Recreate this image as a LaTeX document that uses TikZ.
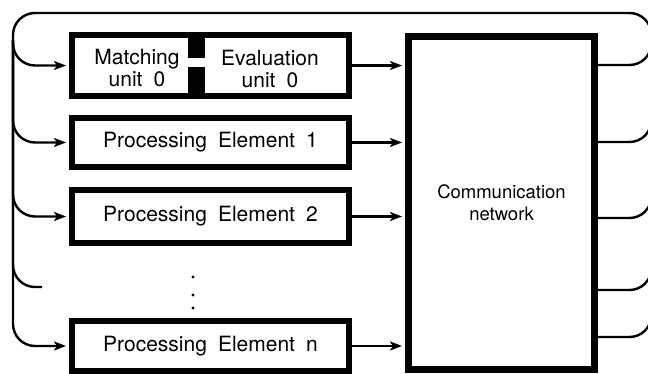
\documentclass[tikz,border=0pt]{standalone}
\usepackage{fontspec}
\setmainfont{TeX Gyre Heros}[WordSpace=1.9]
\usetikzlibrary{arrows.meta, positioning}
\tikzset{
x=1pt, y=-1pt, % laid out in pixels, y grows downwards
>={Stealth[length=12pt, width=9pt, inset=3pt]}, % makes the arrow heads bold
every node/.style={font=\fontsize{21}{22}\selectfont}, % text of the boxes
pebox/.style={draw, line width=6pt, minimum width=277pt, inner sep=0pt}, % one processing element
network/.style={pebox, line width=7pt, minimum width=186pt, minimum height=333pt, align=center, font=\fontsize{18.5}{22}\selectfont},
bus/.style={line width=2.4pt, rounded corners=22pt}, % the ring round the machine
flow/.style={bus, ->, shorten >=3pt},
divider/.style={line width=17pt},
vdot/.style={circle, fill, inner sep=1.1pt},
}

\begin{document}
\begin{tikzpicture}
  \useasboundingbox (0,0) rectangle (648,374);

  \node[pebox, minimum height=61pt] (pe0) at (210.5,65.5) {};
  \node[pebox, minimum height=49pt] (pe1) at (210.5,142.5) {Processing Element 1};
  \node[pebox, minimum height=53pt] (pe2) at (210.5,216.5) {Processing Element 2};
  \node[pebox, minimum height=50pt] (pen) at (210.5,346) {Processing Element n};
  \node[network] (net) at (501.5,203) {Communication\\network};

  \node[align=center] (match) at (137,68) {Matching\\unit 0};
  \node[align=center] (eval) at (270,69) {Evaluation\\unit 0};

  % bar between the two units, open in the middle
  \coordinate (gaptop) at (196.5,58);
  \coordinate (gapbot) at (196.5,67);
  \draw[divider] (gaptop) -- (gaptop |- pe0.north);
  \draw[divider] (gapbot) -- (gapbot |- pe0.south);

  \node[vdot] (dot1) at (193,277) {};
  \node[vdot] (dot2) at (193,295) {};
  \node[vdot] (dot3) at (193,308) {};

  \coordinate (rtop) at (651.5,13);
  \coordinate (ltop) at (13,13);
  \coordinate (lbus) at (13,40);
  \coordinate (rbus) at (651.5,40);
  \coordinate (stub) at (42,287);

  % elements into the network
  \draw[flow] (pe0.east) -- (pe0.east -| net.west);
  \draw[flow] (pe1.east) -- (pe1.east -| net.west);
  \draw[flow] (pe2.east) -- (pe2.east -| net.west);
  \draw[flow] (pen.east) -- (pen.east -| net.west);

  % network back round to the elements
  \draw[flow] ([yshift=-134pt]net.east) -| (rtop) -- (ltop) |- (pen.west);
  \draw[bus] ([yshift=138pt]net.east) -| (rbus);
  \draw[bus] ([yshift=61pt]net.east) -| (rbus);
  \draw[bus] ([yshift=-15pt]net.east) -| (rbus);
  \draw[bus] ([yshift=-87pt]net.east) -| (rbus);
  \draw[flow] (lbus) |- (pe0.west);
  \draw[flow] (lbus) |- (pe1.west);
  \draw[flow] (lbus) |- (pe2.west);
  \draw[bus] (lbus) |- (stub);
\end{tikzpicture}
\end{document}
